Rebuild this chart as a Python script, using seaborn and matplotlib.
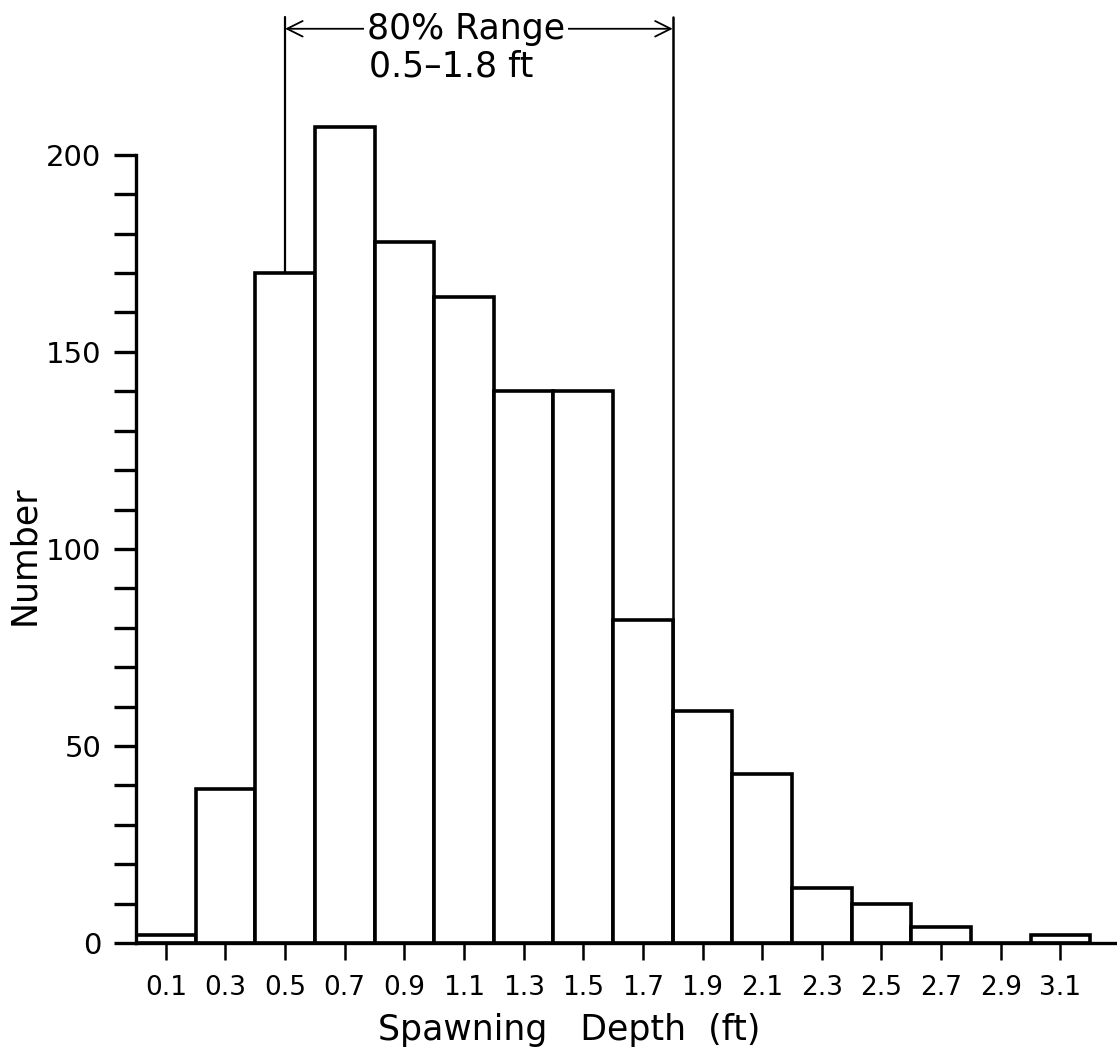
import numpy as np
import pandas as pd
import matplotlib.pyplot as plt
import seaborn as sns

# spawning depth classes (bin centres, ft) and number of redds
depth_mid = [0.1, 0.3, 0.5, 0.7, 0.9, 1.1, 1.3, 1.5, 1.7, 1.9, 2.1, 2.3, 2.5, 2.7, 2.9, 3.1]
counts = [2, 39, 170, 207, 178, 164, 140, 140, 82, 59, 43, 14, 10, 4, 0, 2]
tick_labels = ["0.1", "0.3", "0.5", "0.7", "0.9", "1.1", "1.3", "1.5", "1.7",
               "1.9", "2.1", "2.3", "2.5", "2.7", "2.9", "3.1"]
range_low = 0.5
range_high = 1.8
range_text = "80% Range"
range_sub = "0.5\u20131.8 ft"

df = pd.DataFrame({"depth": depth_mid, "count": counts})

sns.set_style("ticks")
plt.rcParams["font.family"] = ["DejaVu Sans"]
plt.rcParams["text.color"] = "black"
plt.rcParams["axes.labelcolor"] = "black"
plt.rcParams["xtick.color"] = "black"
plt.rcParams["ytick.color"] = "black"
plt.rcParams["axes.edgecolor"] = "black"

fig = plt.figure(figsize=(11.17, 10.59), dpi=100)
ax = fig.add_axes([136 / 1117, 116 / 1059, 981 / 1117, 943 / 1059])

sns.histplot(data=df, x="depth", weights="count", binwidth=0.2, binrange=(0, 3.2),
             color="white", edgecolor="black", linewidth=2.6, alpha=1, ax=ax)

ax.set_xlim(0, 3.29)
ax.set_ylim(0, 239.3)

# 80% range markers
top = 235
low_count = counts[depth_mid.index(range_low)]
ax.plot([range_low, range_low], [low_count, top], color="black", lw=1.6)
ax.plot([range_high, range_high], [0, top], color="black", lw=1.8)
ax.annotate("", xy=(range_low, 232), xytext=(range_high, 232),
            arrowprops=dict(arrowstyle="<->", color="black", lw=1.3,
                            mutation_scale=28, shrinkA=0, shrinkB=0))
ax.text(1.107, 232, range_text, ha="center", va="center", fontsize=25,
        bbox=dict(fc="white", ec="none", pad=2))
ax.text(1.057, 222.5, range_sub, ha="center", va="center", fontsize=25)

# axes styling
sns.despine(ax=ax)
ax.spines["left"].set_bounds(0, 200)
ax.spines["left"].set_linewidth(2.4)
ax.spines["bottom"].set_linewidth(2.4)
ax.set_yticks(np.arange(0, 201, 10))
ax.set_yticklabels([str(v) if v % 50 == 0 else "" for v in range(0, 201, 10)])
ax.set_xticks(depth_mid)
ax.set_xticklabels(tick_labels)
ax.tick_params(axis="y", length=16, width=2.4, labelsize=21, pad=9)
ax.tick_params(axis="x", length=12, width=1.8, labelsize=19, pad=11)

ax.set_xlabel("Spawning   Depth  (ft)", fontsize=25)
ax.xaxis.set_label_coords(0.442, -0.074)
ax.set_ylabel("Number", fontsize=25)
ax.yaxis.set_label_coords(-0.097, 0.411)

plt.savefig("out.png", dpi=100)
